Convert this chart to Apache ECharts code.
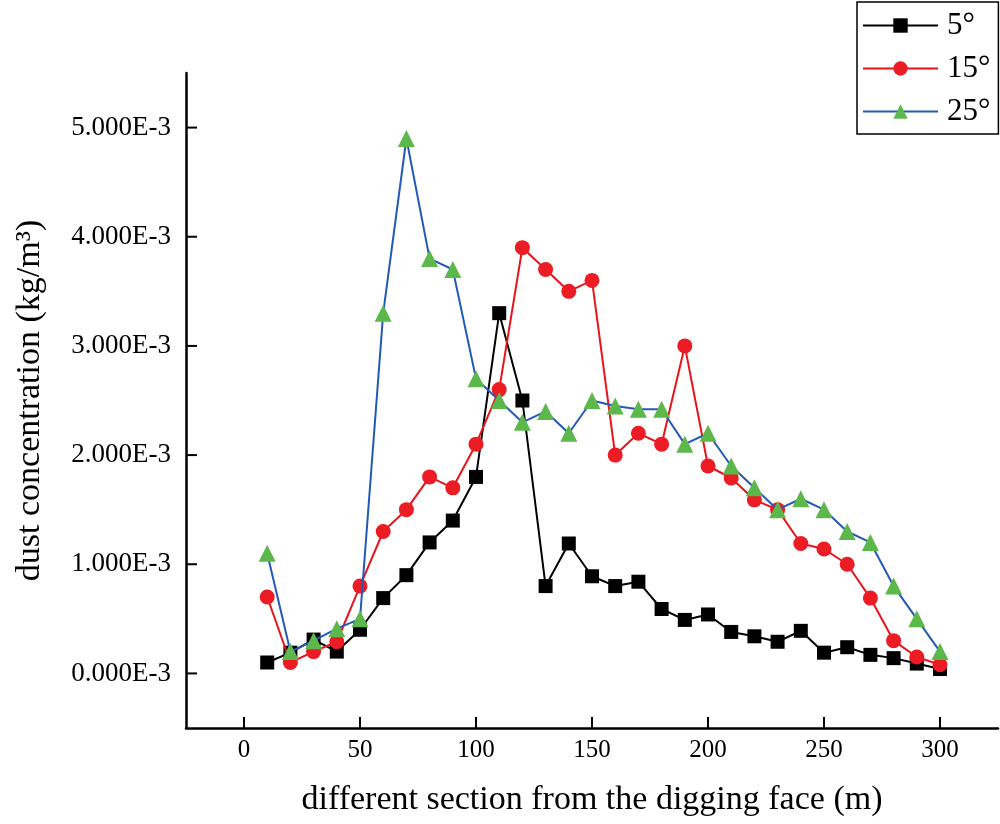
<!DOCTYPE html>
<html>
<head>
<meta charset="utf-8">
<script src="https://cdn.jsdelivr.net/npm/echarts@6/dist/echarts.min.js"></script>
<style>
  html, body { margin: 0; padding: 0; background: #fff; }
  #chart { width: 1000px; height: 824px; }
</style>
</head>
<body>
<div id="chart"></div>
<script>
// distance from digging face (m)
const sections = [10,20,30,40,50,60,70,80,90,100,110,120,130,140,150,160,170,180,190,200,210,220,230,240,250,260,270,280,290,300];
// dust concentration, in units of 1E-3 kg/m^3
const deg5  = [0.1,0.19,0.31,0.2,0.4,0.69,0.9,1.2,1.4,1.8,3.3,2.5,0.8,1.19,0.89,0.8,0.84,0.59,0.49,0.54,0.38,0.34,0.29,0.39,0.19,0.24,0.17,0.14,0.09,0.04];
const deg15 = [0.7,0.1,0.2,0.29,0.8,1.3,1.5,1.8,1.7,2.1,2.6,3.9,3.7,3.5,3.6,2.0,2.2,2.1,3.0,1.9,1.79,1.59,1.5,1.19,1.14,1.0,0.69,0.3,0.15,0.08];
const deg25 = [1.1,0.2,0.3,0.41,0.5,3.3,4.9,3.8,3.7,2.7,2.5,2.3,2.4,2.2,2.5,2.45,2.42,2.42,2.1,2.2,1.9,1.7,1.5,1.6,1.5,1.3,1.2,0.8,0.5,0.2];
const seriesNames = ['5°','15°','25°'];
const xTicks = [0,50,100,150,200,250,300];
const yTicks = [0,1,2,3,4,5];

const X_MIN = -25, X_MAX = 325;
const Y_MIN = -0.5, Y_MAX = 5.5;
const TICK_LEN = 11;

const FONT = "'Liberation Serif', 'Times New Roman', serif";
const pairs = vals => sections.map((x, i) => [x, vals[i]]);

// inside tick marks, placed through the axes' own scales (api.coord)
const tickSeries = (vals, horizontal) => ({
  type: 'custom',
  silent: true,
  z: 1,
  data: vals.map(v => horizontal ? [v, Y_MIN] : [X_MIN, v]),
  renderItem: (params, api) => {
    const p = api.coord([api.value(0), api.value(1)]);
    return {
      type: 'line',
      shape: horizontal
        ? { x1: p[0], y1: p[1], x2: p[0], y2: p[1] - TICK_LEN }
        : { x1: p[0], y1: p[1], x2: p[0] + TICK_LEN, y2: p[1] },
      style: { stroke: '#000', lineWidth: 2 }
    };
  }
});

const chart = echarts.init(document.getElementById('chart'), null, { renderer: 'canvas' });
chart.setOption({
  backgroundColor: '#ffffff',
  animation: false,
  grid: { left: 186, right: 2, top: 73, bottom: 96 },
  legend: {
    orient: 'vertical',
    left: 857,
    top: 2,
    padding: [8, 8, 7, 5],
    itemWidth: 75,
    itemHeight: 18,
    itemGap: 12,
    borderColor: '#000',
    borderWidth: 1.5,
    textStyle: { fontFamily: FONT, fontSize: 31, color: '#000', lineHeight: 30, padding: [0, 0, 0, 4] },
    data: seriesNames
  },
  xAxis: {
    type: 'value',
    min: X_MIN,
    max: X_MAX,
    splitNumber: 7,
    name: 'different section from the digging face (m)',
    nameLocation: 'middle',
    nameGap: 55,
    nameTextStyle: { fontFamily: FONT, fontSize: 34, color: '#000' },
    axisLine: { onZero: false, lineStyle: { color: '#000', width: 2.5 } },
    axisTick: { show: false },
    axisLabel: {
      showMinLabel: false, showMaxLabel: false, margin: 10, fontFamily: FONT, fontSize: 25, color: '#000',
      formatter: v => (xTicks.includes(v) ? String(v) : '')
    },
    splitLine: { show: false }
  },
  yAxis: {
    type: 'value',
    min: Y_MIN,
    max: Y_MAX,
    splitNumber: 6,
    name: 'dust concentration (kg/m³)',
    nameLocation: 'middle',
    nameGap: 139,
    nameRotate: 90,
    nameTextStyle: { fontFamily: FONT, fontSize: 34, color: '#000' },
    axisLine: { onZero: false, lineStyle: { color: '#000', width: 2.5 } },
    axisTick: { show: false },
    axisLabel: {
      showMinLabel: false, showMaxLabel: false, margin: 15, fontFamily: FONT, fontSize: 27, color: '#000',
      formatter: v => (yTicks.includes(v) ? v.toFixed(3) + 'E-3' : '')
    },
    splitLine: { show: false }
  },
  series: [
    tickSeries(xTicks, true),
    tickSeries(yTicks, false),
    {
      name: seriesNames[0], type: 'line', data: pairs(deg5),
      symbol: 'rect', symbolSize: 14,
      itemStyle: { color: '#000000' },
      lineStyle: { color: '#000000', width: 2 },
      z: 2
    },
    {
      name: seriesNames[1], type: 'line', data: pairs(deg15),
      symbol: 'circle', symbolSize: 15,
      itemStyle: { color: '#ec1c24' },
      lineStyle: { color: '#e8141c', width: 2 },
      z: 3
    },
    {
      name: seriesNames[2], type: 'line', data: pairs(deg25),
      symbol: 'triangle', symbolSize: 17,
      itemStyle: { color: '#5cb84a' },
      lineStyle: { color: '#2459b8', width: 2 },
      z: 4
    }
  ]
});
</script>
</body>
</html>
